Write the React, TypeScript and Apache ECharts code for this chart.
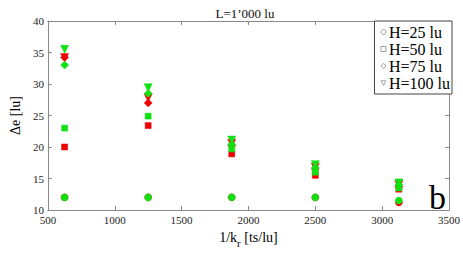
import React, { useEffect, useRef } from "react";
import * as echarts from "echarts";

const xValues = [625, 1250, 1875, 2500, 3125];
const legendNames = ["H=25 lu", "H=50 lu", "H=75 lu", "H=100 lu"];
const redH25 = [12, 12, 12, 12, 11.2];
const redH50 = [20, 23.4, 18.9, 15.5, 13.3];
const redH75 = [34.2, 27, 20.2, 16.5, 13.7];
const redH100 = [34.2, 27.8, 20.6, 16.8, 14];
const greenH25 = [12, 12, 12, 12, 11.5];
const greenH50 = [23, 24.9, 19.7, 16, 13.5];
const greenH75 = [33, 28.5, 20.4, 16.7, 14];
const greenH100 = [35.5, 29.4, 21.1, 17.2, 14.3];

const FONT = "'Liberation Serif', 'Times New Roman', serif";
const RED = "#ee0000";
const GREEN = "#11e011";
const TRI_DOWN = "path://M0,0 L10,0 L5,9 Z";
const symbols = ["circle", "rect", "diamond", TRI_DOWN];
const sizes = [7, 6, 8, 8];

export default function App() {
  const ref = useRef<HTMLDivElement>(null);
  useEffect(() => {
    const chart = echarts.init(ref.current!, null, { renderer: "svg" });
    const redSets = [redH25, redH50, redH75, redH100];
    const greenSets = [greenH25, greenH50, greenH75, greenH100];
    const mk = (vals: number[], i: number, color: string) => ({
      type: "scatter",
      name: legendNames[i],
      data: vals.map((v, j) => [xValues[j], v]),
      symbol: symbols[i],
      symbolSize: sizes[i],
      itemStyle: { color, borderColor: color, borderWidth: 0.5, opacity: 1 },
      xAxisIndex: 0,
      yAxisIndex: 0,
    });
    const series: any[] = [];
    redSets.forEach((s, i) => series.push(mk(s, i, RED)));
    greenSets.forEach((s, i) => series.push(mk(s, i, GREEN)));
    const axisCommon = {
      axisLine: { show: true, lineStyle: { color: "#888", width: 1 } },
      axisTick: { show: true, inside: true, length: 4, lineStyle: { color: "#888" } },
      splitLine: { show: false },
    };
    const fmt = (v: number) => String(v);
    chart.setOption({
      animation: false,
      title: {
        text: "L=1\u2019000 lu",
        left: 240,
        textAlign: "center",
        top: 2,
        textStyle: { fontFamily: FONT, fontSize: 13, fontWeight: "normal", color: "#111" },
      },
      grid: { left: 33, right: 11, top: 21, bottom: 31 },
      legend: {
        orient: "vertical",
        right: 11,
        top: 21,
        itemWidth: 5,
        itemHeight: 5,
        itemGap: 1,
        padding: [3, 2, 3, 4],
        borderColor: "#444",
        borderWidth: 1,
        backgroundColor: "#fff",
        textStyle: { fontFamily: FONT, fontSize: 16, color: "#000", padding: [0, 0, 0, -2] },
        data: legendNames.map((n, i) => ({
          name: n,
          icon: symbols[i],
          itemStyle: { color: "none", borderColor: "#888", borderWidth: 0.8 },
        })),
      },
      xAxis: [
        {
          type: "value",
          min: 500,
          max: 3500,
          interval: 500,
          position: "bottom",
          ...axisCommon,
          axisLabel: { fontFamily: FONT, fontSize: 11, color: "#222", margin: 4, formatter: fmt },
          name: "1/k{sub|r} [ts/lu]",
          nameLocation: "middle",
          nameGap: 17,
          nameTextStyle: {
            fontFamily: FONT,
            fontSize: 14,
            color: "#000",
            rich: { sub: { fontFamily: FONT, fontSize: 11, verticalAlign: "bottom", padding: [10, 0, 0, 0] } },
          },
        },
        {
          type: "value",
          min: 500,
          max: 3500,
          interval: 500,
          position: "top",
          ...axisCommon,
          axisLabel: { show: false },
        },
      ],
      yAxis: [
        {
          type: "value",
          min: 10,
          max: 40,
          interval: 5,
          position: "left",
          ...axisCommon,
          axisLabel: { fontFamily: FONT, fontSize: 11, color: "#222", margin: 4, formatter: fmt },
          name: "\u0394e [lu]",
          nameLocation: "middle",
          nameGap: 18,
          nameTextStyle: { fontFamily: FONT, fontSize: 14, color: "#000" },
        },
        {
          type: "value",
          min: 10,
          max: 40,
          interval: 5,
          position: "right",
          ...axisCommon,
          axisLabel: { show: false },
        },
      ],
      graphic: [
        {
          type: "text",
          left: 429,
          top: 180,
          style: { text: "b", fontFamily: FONT, fontSize: 34, lineHeight: 34, fill: "#000" },
        },
      ],
      series,
    });
    return () => chart.dispose();
  }, []);
  return <div ref={ref} style={{ width: 463, height: 253, position: "absolute", left: 0, top: 0 }} />;
}
